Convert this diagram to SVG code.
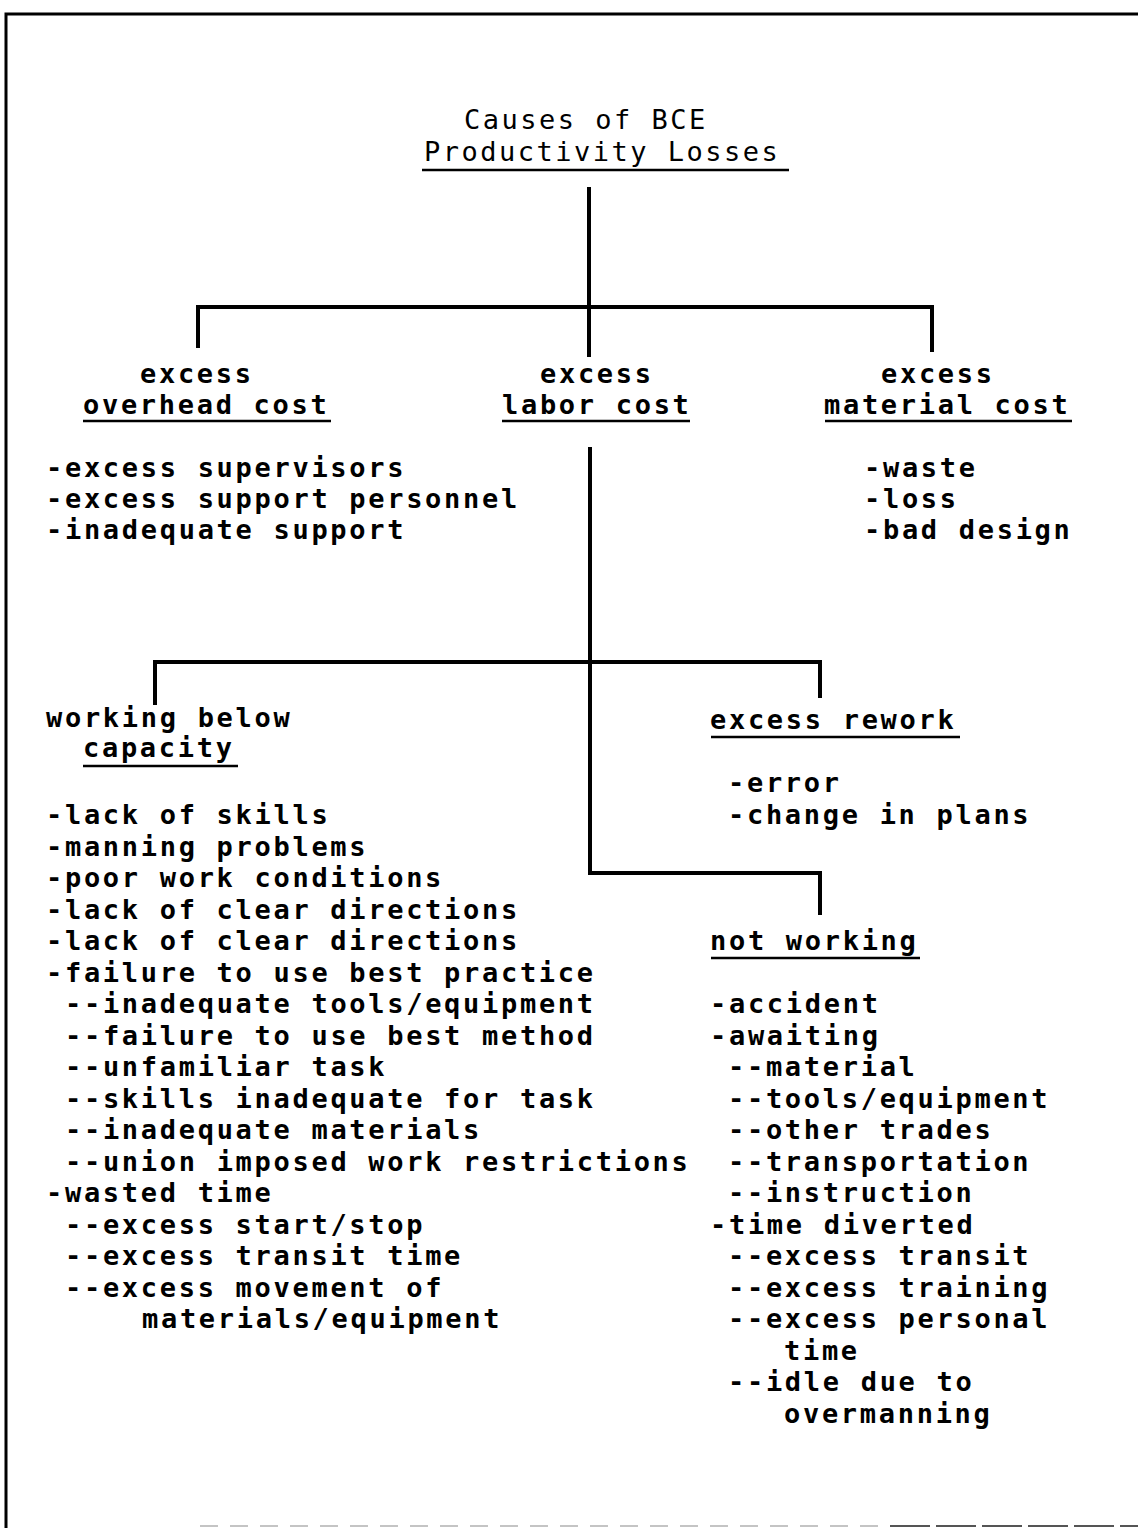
<svg xmlns="http://www.w3.org/2000/svg" width="1138" height="1528" viewBox="0 0 1138 1528">
<style>
  .t { font-family: "DejaVu Sans Mono", "Liberation Mono", monospace; font-weight: bold; font-size: 27px; letter-spacing: 2.7px; fill: #000; }
  .title { font-family: "DejaVu Sans Mono", "Liberation Mono", monospace; font-weight: normal; font-size: 27px; letter-spacing: 2.5px; fill: #000; }
  .ul { stroke: #000; stroke-width: 2.5; fill: none; }
  .conn { stroke: #000; stroke-width: 4; fill: none; stroke-linecap: butt; stroke-linejoin: miter; }
  .frame { stroke: #000; stroke-width: 3; fill: none; }
</style>
<rect x="0" y="0" width="1138" height="1528" fill="#fff"/>

<g id="frame">
  <path class="frame" d="M6,1528 V14 H1138"/>
  <path d="M200,1526 H890" stroke="#c4c4c4" stroke-width="2" stroke-dasharray="18,12" fill="none"/>
  <path d="M890,1526 H1138" stroke="#555" stroke-width="2" stroke-dasharray="40,6" fill="none"/>
</g>

<g id="connectors">
  <path class="conn" d="M589,187 V357"/>
  <path class="conn" d="M198,348 V307 H932 V352"/>
  <path class="conn" d="M590,447 V873 H820 V915"/>
  <path class="conn" d="M155,705 V662 H820 V698"/>
</g>

<g id="root">
  <text class="title" x="464" y="129">Causes of BCE</text>
  <text class="title" x="424" y="161">Productivity Losses</text>
  <path class="ul" d="M422,170 H789"/>
</g>

<g id="overhead">
  <text class="t" x="140" y="383">excess</text>
  <text class="t" x="83" y="414">overhead cost</text>
  <path class="ul" d="M83,421 H331"/>
  <text class="t" x="46" y="477">-excess supervisors</text>
  <text class="t" x="46" y="508">-excess support personnel</text>
  <text class="t" x="46" y="539">-inadequate support</text>
</g>

<g id="labor">
  <text class="t" x="540" y="383">excess</text>
  <text class="t" x="502" y="414">labor cost</text>
  <path class="ul" d="M502,421 H690"/>
</g>

<g id="material">
  <text class="t" x="881" y="383">excess</text>
  <text class="t" x="824" y="414">material cost</text>
  <path class="ul" d="M825,421 H1072"/>
  <text class="t" x="864" y="477">-waste</text>
  <text class="t" x="864" y="508">-loss</text>
  <text class="t" x="864" y="539">-bad design</text>
</g>

<g id="below-capacity">
  <text class="t" x="46" y="727">working below</text>
  <text class="t" x="83" y="757">capacity</text>
  <path class="ul" d="M83,766 H238"/>
  <text class="t" x="46" y="824">-lack of skills</text>
  <text class="t" x="46" y="855.5">-manning problems</text>
  <text class="t" x="46" y="887">-poor work conditions</text>
  <text class="t" x="46" y="918.5">-lack of clear directions</text>
  <text class="t" x="46" y="950">-lack of clear directions</text>
  <text class="t" x="46" y="981.5">-failure to use best practice</text>
  <text class="t" x="65" y="1013">--inadequate tools/equipment</text>
  <text class="t" x="65" y="1044.5">--failure to use best method</text>
  <text class="t" x="65" y="1076">--unfamiliar task</text>
  <text class="t" x="65" y="1107.5">--skills inadequate for task</text>
  <text class="t" x="65" y="1139">--inadequate materials</text>
  <text class="t" x="65" y="1170.5">--union imposed work restrictions</text>
  <text class="t" x="46" y="1202">-wasted time</text>
  <text class="t" x="65" y="1233.5">--excess start/stop</text>
  <text class="t" x="65" y="1265">--excess transit time</text>
  <text class="t" x="65" y="1296.5">--excess movement of</text>
  <text class="t" x="142" y="1328">materials/equipment</text>
</g>

<g id="rework">
  <text class="t" x="710" y="729">excess rework</text>
  <path class="ul" d="M711,737 H960"/>
  <text class="t" x="728" y="792">-error</text>
  <text class="t" x="728" y="824">-change in plans</text>
</g>

<g id="not-working">
  <text class="t" x="710" y="950">not working</text>
  <path class="ul" d="M711,958 H920"/>
  <text class="t" x="710" y="1013">-accident</text>
  <text class="t" x="710" y="1044.5">-awaiting</text>
  <text class="t" x="728" y="1076">--material</text>
  <text class="t" x="728" y="1107.5">--tools/equipment</text>
  <text class="t" x="728" y="1139">--other trades</text>
  <text class="t" x="728" y="1170.5">--transportation</text>
  <text class="t" x="728" y="1202">--instruction</text>
  <text class="t" x="710" y="1233.5">-time diverted</text>
  <text class="t" x="728" y="1265">--excess transit</text>
  <text class="t" x="728" y="1296.5">--excess training</text>
  <text class="t" x="728" y="1328">--excess personal</text>
  <text class="t" x="784" y="1359.5">time</text>
  <text class="t" x="728" y="1391">--idle due to</text>
  <text class="t" x="784" y="1422.5">overmanning</text>
</g>
</svg>
